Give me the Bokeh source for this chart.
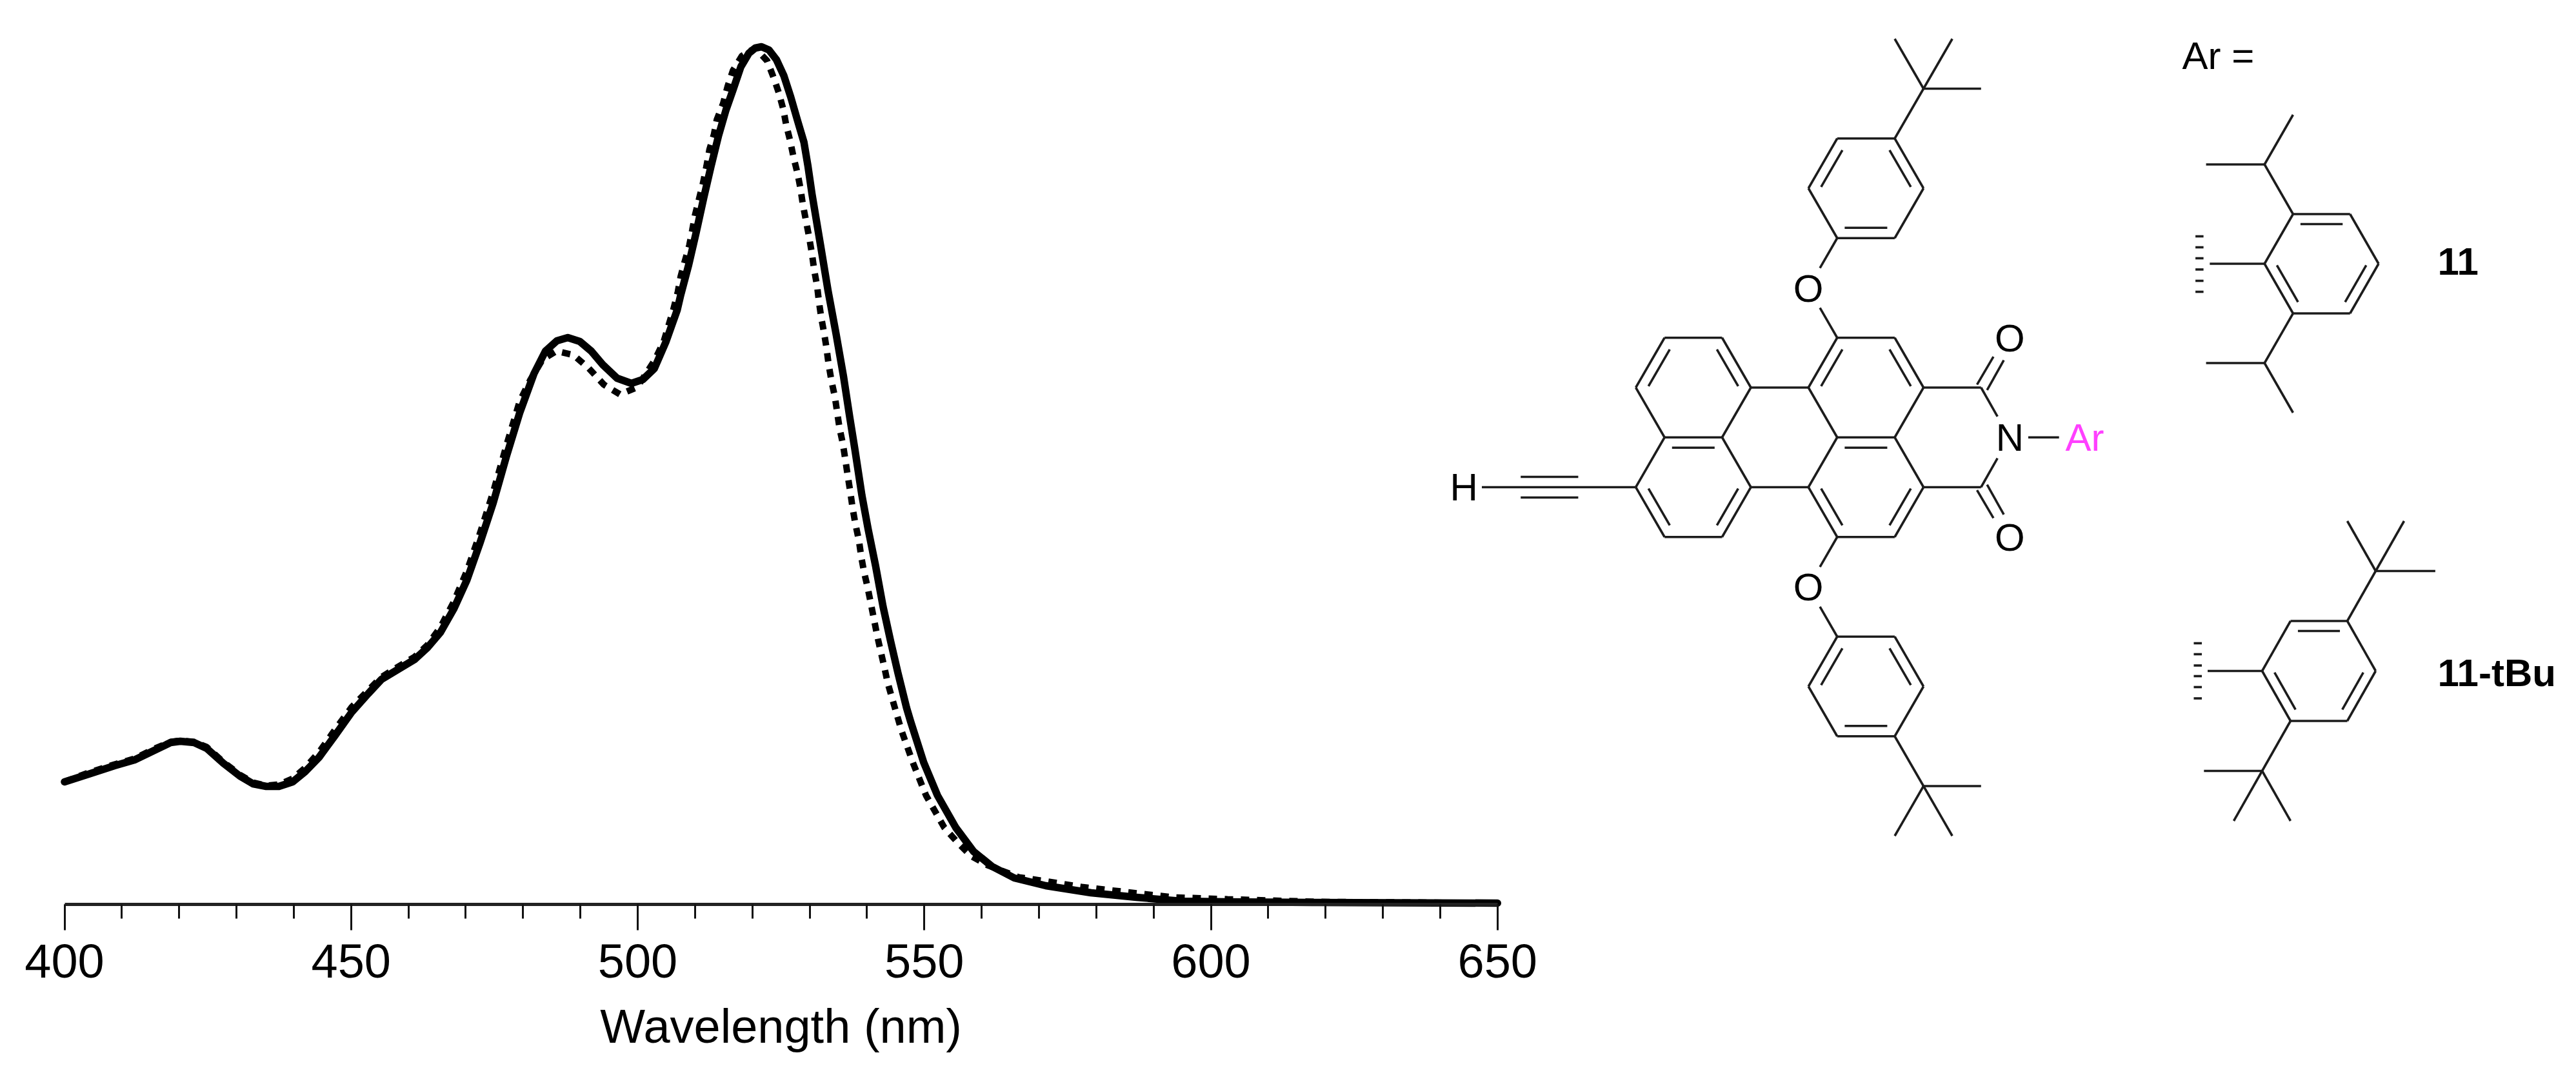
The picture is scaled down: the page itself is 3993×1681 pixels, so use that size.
from bokeh.plotting import figure
from bokeh.models import Range1d, FixedTicker
from bokeh.core.properties import value
from bokeh.embed import file_html
from bokeh.resources import INLINE

# ---------- spectra (wavelength in nm, intensity in a.u.) ----------
solid_nm = [400.0,404.2,408.7,412.2,415.7,418.5,420.2,422.6,424.8,427.7,430.6,432.9,435.2,437.4,439.8,442.0,444.4,447.2,450.1,453.0,455.3,458.1,461.1,463.3,465.6,467.9,470.2,472.5,474.8,477.1,479.4,481.9,483.9,485.9,487.8,489.9,491.9,493.9,496.4,498.9,500.9,502.9,504.9,506.9,507.5,508.9,510.2,511.5,512.8,514.1,515.4,516.7,518.0,519.4,520.5,521.6,522.9,524.2,525.5,526.7,527.9,529.0,529.7,530.4,531.9,533.2,534.6,535.9,537.0,537.9,539.1,540.2,541.5,542.8,544.1,545.4,546.9,547.6,549.9,552.3,555.5,558.6,561.8,565.7,571.2,579.1,587.0,594.9,602.9,618.6,650.0]
solid_int = [190,202,215,224,239,251,253,251,242,219,199,187,183,183,190,206,228,262,298,327,349,364,380,398,422,458,503,561,623,695,762,823,858,874,879,873,858,837,816,808,814,831,872,922,945,992,1042,1095,1145,1192,1232,1265,1299,1320,1328,1330,1325,1310,1285,1252,1215,1182,1145,1102,1022,952,885,819,755,705,635,582,525,462,409,359,305,284,220,169,119,82,59,41,29,18,11,5,4,3,2]
dotted_nm = [400.0,404.1,408.7,412.2,415.6,418.5,420.2,422.6,424.8,427.7,430.6,432.9,435.2,437.4,439.8,442.0,444.4,447.2,450.1,453.0,455.2,458.1,461.1,463.3,465.6,467.9,470.2,472.5,474.8,477.1,479.4,481.3,483.4,485.8,488.8,491.4,494.1,496.9,499.9,502.9,504.5,506.2,507.0,507.5,508.2,509.0,509.5,510.0,510.7,511.4,512.0,512.5,513.3,513.8,514.9,515.7,516.6,518.2,520.5,522.6,523.8,524.6,525.4,525.9,526.6,527.2,527.9,528.4,528.8,529.3,529.9,530.4,530.8,531.3,531.6,532.0,532.5,532.9,533.3,533.8,534.4,534.8,535.2,535.8,536.2,536.6,537.1,537.5,538.0,538.6,539.0,539.5,540.1,540.6,541.2,541.8,542.4,543.0,543.6,544.4,546.0,548.0,550.3,553.5,555.8,558.2,561.0,566.5,571.2,577.5,585.4,593.4,602.9,618.6,650.0]
dotted_int = [190,204,217,226,241,252,254,252,244,221,201,189,184,186,195,212,236,271,306,332,352,368,384,402,430,469,517,576,640,712,780,814,845,858,852,832,806,791,802,843,872,922,950,974,997,1022,1045,1069,1094,1119,1145,1170,1194,1217,1242,1269,1293,1316,1328,1308,1280,1259,1233,1209,1184,1158,1133,1110,1086,1063,1035,1009,983,959,936,911,887,865,838,812,787,763,739,714,691,667,639,614,589,564,539,515,492,470,443,416,392,369,344,319,270,220,169,119,96,75,61,42,36,27,19,11,8,4,2]

major_ticks = [400, 450, 500, 550, 600, 650]
minor_ticks = list(range(400, 660, 10))
x_label = "Wavelength (nm)"

# ---------- page geometry ----------
W, H = 3977, 1665
AX_Y = 1402          # pixel row of the axis in the page
X400 = 99.5
PX_PER_NM = 8.885
INK = "#000000"
BOND = "#1c1c1c"
SANS = "Liberation Sans"
TEXT_SHIFT = -21     # glyph text sits this far off its anchor row at 60px

x0_nm = 400 - X400 / PX_PER_NM
x1_nm = 400 + (W - X400) / PX_PER_NM

p = figure(width=W, height=H, output_backend="svg", toolbar_location=None,
           x_range=Range1d(x0_nm, x1_nm), y_range=Range1d(AX_Y - H, AX_Y),
           y_axis_location=None, min_border_left=0, min_border_right=0,
           min_border_top=0, min_border_bottom=0)
p.outline_line_color = None
p.xgrid.visible = False
p.ygrid.visible = False
p.background_fill_color = "white"
p.border_fill_color = "white"

ax = p.xaxis[0]
ax.fixed_location = 0
ax.bounds = (400, 650)
ax.ticker = FixedTicker(ticks=major_ticks, minor_ticks=minor_ticks)
ax.axis_line_color = "#222222"
ax.axis_line_width = 5
ax.major_tick_line_color = "#111111"
ax.major_tick_line_width = 3
ax.minor_tick_line_color = "#111111"
ax.minor_tick_line_width = 3
ax.major_tick_in = 0
ax.major_tick_out = 40
ax.minor_tick_in = 0
ax.minor_tick_out = 22
ax.major_label_text_font = SANS
ax.major_label_text_font_size = "74px"
ax.major_label_text_color = INK
ax.major_label_standoff = 22

p.line(dotted_nm, dotted_int, line_color=INK, line_width=10, line_dash="13 12", line_cap="butt")
p.line(solid_nm, solid_int, line_color=INK, line_width=11.5, line_join="round", line_cap="round")

# ---------- structures: hexagonal lattice topology drawn in page pixels ----------
p.extra_x_ranges["mx"] = Range1d(0, W)
p.extra_y_ranges["my"] = Range1d(H, 0)

bx, by = [], []

def seg(a, b):
    bx.append([a[0], b[0]])
    by.append([a[1], b[1]])

def lattice(ox, oy, dx, dy):
    return lambda i, j: (ox + i * dx, oy + j * dy)

def inner(L, a, b, c, off=16.0, trim=0.13):
    """double-bond inner stroke of lattice bond a-b, towards lattice point c"""
    A, B, C = L(*a), L(*b), L(*c)
    ux, uy = B[0] - A[0], B[1] - A[1]
    n = (ux * ux + uy * uy) ** 0.5
    nx, ny = -uy / n, ux / n
    if (C[0] - A[0]) * nx + (C[1] - A[1]) * ny < 0:
        nx, ny = -nx, -ny
    seg((A[0] + ux * trim + nx * off, A[1] + uy * trim + ny * off),
        (B[0] - ux * trim + nx * off, B[1] - uy * trim + ny * off))

def bonds(L, pairs):
    for a, b in pairs:
        seg(L(*a), L(*b))

core = lattice(2802.7, 600.5, 44.6, 77.25)
core_bonds = [
    # central right rings
    ((1,-1),(3,-1)),((3,-1),(4,0)),((4,0),(3,1)),((3,1),(1,1)),((1,1),(0,0)),((0,0),(1,-1)),
    ((3,1),(4,2)),((4,2),(3,3)),((3,3),(1,3)),((1,3),(0,2)),((0,2),(1,1)),
    # naphthalene part
    ((-5,-1),(-3,-1)),((-3,-1),(-2,0)),((-2,0),(-3,1)),((-3,1),(-5,1)),((-5,1),(-6,0)),((-6,0),(-5,-1)),
    ((-3,1),(-2,2)),((-2,2),(-3,3)),((-3,3),(-5,3)),((-5,3),(-6,2)),((-6,2),(-5,1)),
    ((-2,0),(0,0)),((-2,2),(0,2)),
    # imide
    ((4,0),(6,0)),((4,2),(6,2)),((6,0),(6.57,0.58)),((6,2),(6.57,1.42)),
    ((7.64,1),(8.71,1)),
    # top aryl ether
    ((1,-5),(3,-5)),((3,-5),(4,-4)),((4,-4),(3,-3)),((3,-3),(1,-3)),((1,-3),(0,-4)),((0,-4),(1,-5)),
    ((3,-5),(4,-6)),((4,-6),(3,-7)),((4,-6),(5,-7)),((4,-6),(6,-6)),
    ((1,-1),(0.4,-1.6)),((0.4,-2.4),(1,-3)),
    # bottom aryl ether
    ((1,5),(3,5)),((3,5),(4,6)),((4,6),(3,7)),((3,7),(1,7)),((1,7),(0,6)),((0,6),(1,5)),
    ((3,7),(4,8)),((4,8),(3,9)),((4,8),(5,9)),((4,8),(6,8)),
    ((1,3),(0.4,3.6)),((0.4,4.4),(1,5)),
    # alkyne
    ((-6,2),(-11.35,2)),
    # carbonyl doubles
    ((5.86,-0.06),(6.43,-0.62)),((6.21,0.05),(6.79,-0.55)),
    ((5.86,2.06),(6.43,2.62)),((6.21,1.95),(6.79,2.55)),
]
bonds(core, core_bonds)
core_inner = [
    ((0,-4),(1,-5),(2,-4)),((3,-5),(4,-4),(2,-4)),((1,-3),(3,-3),(2,-4)),
    ((0,0),(1,-1),(2,0)),((3,-1),(4,0),(2,0)),((1,1),(3,1),(2,2)),
    ((0,2),(1,3),(2,2)),((3,3),(4,2),(2,2)),
    ((-6,0),(-5,-1),(-4,0)),((-3,-1),(-2,0),(-4,0)),((-5,1),(-3,1),(-4,2)),
    ((-6,2),(-5,3),(-4,2)),((-3,3),(-2,2),(-4,2)),
    ((0,6),(1,5),(2,6)),((3,5),(4,6),(2,6)),((1,7),(3,7),(2,6)),
]
for a, b, c in core_inner:
    inner(core, a, b, c)
# the two outer strokes of the triple bond
for off in (-16, 16):
    ya = core(0, 2)[1] + off
    seg((core(-10.0, 2)[0], ya), (core(-8.0, 2)[0], ya))

# substituent 11
dip = lattice(3509.7, 408.5, 44.2, 77.0)
ring = [((1,-1),(3,-1)),((3,-1),(4,0)),((4,0),(3,1)),((3,1),(1,1)),((1,1),(0,0)),((0,0),(1,-1))]
bonds(dip, ring + [((0,0),(-1.92,0)),((1,-1),(0,-2)),((0,-2),(-2.05,-2)),((0,-2),(1,-3)),
                   ((1,1),(0,2)),((0,2),(-2.05,2)),((0,2),(1,3))])
for a, b, c in [((1,-1),(3,-1),(2,0)),((0,0),(1,1),(2,0)),((3,1),(4,0),(2,0))]:
    inner(dip, a, b, c, off=15.5)

# substituent 11-tBu
tbu = lattice(3506.0, 1040.0, 44.0, 77.5)
bonds(tbu, ring + [((0,0),(-1.92,0)),((3,-1),(4,-2)),((4,-2),(3,-3)),((4,-2),(5,-3)),((4,-2),(6.1,-2)),
                   ((1,1),(0,2)),((0,2),(-2.05,2)),((0,2),(-1,3)),((0,2),(1,3))])
for a, b, c in [((1,-1),(3,-1),(2,0)),((0,0),(1,1),(2,0)),((3,1),(4,0),(2,0))]:
    inner(tbu, a, b, c, off=15.5)

p.multi_line(bx, by, line_color=BOND, line_width=3.6, x_range_name="mx", y_range_name="my")

# hashed attachment marks
for x_left, rows in [(3402.6, [366, 383, 400, 417.4, 435, 452]),
                     (3400.0, [997, 1014, 1031.5, 1048, 1065, 1082.5])]:
    p.multi_line([[x_left, x_left + 12.5] for _ in rows], [[r, r] for r in rows],
                 line_color=BOND, line_width=3.6, x_range_name="mx", y_range_name="my")

def label(x, y, s, color=INK, align="center", style="normal", size=60):
    p.text([x], [y + TEXT_SHIFT * size / 60], text=[s], text_font=value(SANS),
           text_font_size=value(f"{size}px"), text_color=color, text_align=align,
           text_baseline="alphabetic", text_font_style=style,
           x_range_name="mx", y_range_name="my")

DY = 21.5
for i, j, s in [(0, -2, "O"), (0, 4, "O"), (7, -1, "O"), (7, 3, "O"), (7, 1, "N")]:
    xp, yp = core(i, j)
    label(xp, yp + DY, s)
label(2268.6, 776, "H")
label(3201, core(0, 1)[1] + DY, "Ar", color="#ff40ff", align="left")
label(3382, 107, "Ar =", align="left")
label(3778, 426, "11", align="left", style="bold")
label(3778, 1064, "11-tBu", align="left", style="bold")
label(X400 + 125 * PX_PER_NM, 1617, x_label, size=74)

open("out.html", "w").write(file_html(p, INLINE))
